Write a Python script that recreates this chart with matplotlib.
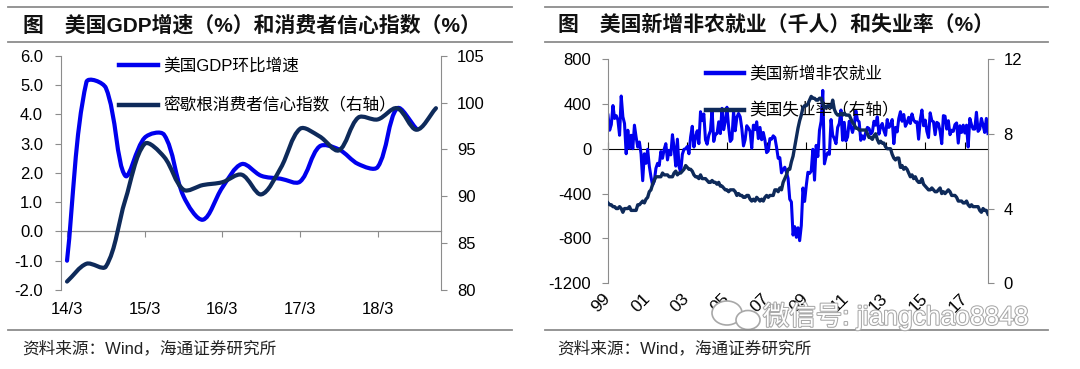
import numpy as np
import matplotlib
matplotlib.use("Agg")
import matplotlib.pyplot as plt
from matplotlib.path import Path
from matplotlib.patches import PathPatch, Ellipse
from matplotlib.lines import Line2D
from matplotlib.ticker import FormatStrFormatter
import matplotlib.patheffects as pe

plt.rcParams['font.family'] = ['Liberation Sans', 'Noto Sans CJK SC']
plt.rcParams['axes.unicode_minus'] = False

# ---- left chart: quarterly, 2014Q1 .. 2018Q4
quarters = ['14/3', '14/6', '14/9', '14/12', '15/3', '15/6', '15/9', '15/12',
            '16/3', '16/6', '16/9', '16/12', '17/3', '17/6', '17/9', '17/12',
            '18/3', '18/6', '18/9', '18/12']
gdp_qoq = [-1.0, 5.1, 4.9, 1.9, 3.2, 3.3, 1.2, 0.4, 1.5, 2.3, 1.9, 1.8,
           1.7, 2.9, 2.8, 2.3, 2.2, 4.2, 3.5]
michigan = [80.9, 82.8, 82.5, 89.6, 95.6, 94.2, 90.7, 91.2, 91.5, 92.3,
            90.2, 93.0, 97.2, 96.4, 94.9, 98.4, 98.2, 99.4, 97.1, 99.4]

# ---- right chart: monthly, 1999-07 .. 2018-09
year_labels = ['99', '01', '03', '05', '07', '09', '11', '13', '15', '17']
nfp = [300, 165, 215, 385, 270, 295,
       255, 120, 470, 285, 225, -45, 165, 5, 120, 0, 210, 105,
       15, 60, -45, -285, -45, -130, -5, -155, -250, -325, -290, -175,
       -130, -150, -25, -85, -5, 45, -100, -15, -55, 125, 10, -155,
       85, -160, -210, -50, -5, 0, 20, -45, 105, 200, 15, 105,
       160, 45, 330, 250, 310, 80, 40, 120, 160, 345, 65, 130,
       135, 240, 135, 360, 170, 245, 370, 195, 65, 85, 335, 160,
       280, 315, 285, 180, 25, 80, 205, 185, 155, 5, 210, 170,
       240, 90, 190, 80, 145, 75, -35, -20, 90, 85, 115, 100,
       15, -85, -80, -215, -185, -165, -210, -265, -450, -475, -770, -695,
       -790, -705, -820, -685, -350, -470, -330, -210, -220, -200, -5, -280,
       30, -70, 165, 245, 520, -135, -70, -35, -50, 260, 120, 90,
       45, 190, 225, 345, 75, 235, 70, 105, 245, 200, 145, 205,
       340, 255, 240, 75, 115, 85, 145, 190, 180, 130, 150, 245,
       210, 285, 130, 195, 225, 160, 120, 260, 190, 210, 260, 45,
       190, 150, 270, 330, 245, 305, 200, 230, 280, 225, 310, 255,
       235, 240, 85, 260, 345, 205, 255, 155, 100, 320, 250, 240,
       125, 235, 225, 155, 45, 295, 290, 175, 250, 125, 165, 155,
       215, 230, 50, 205, 145, 210, 140, 210, 15, 270, 215, 175,
       175, 325, 155, 175, 270, 210, 145, 270, 135]
unemp = [4.3, 4.2, 4.2, 4.1, 4.1, 4.0,
         4.0, 4.1, 4.0, 3.8, 4.0, 4.0, 4.0, 4.1, 3.9, 3.9, 3.9, 3.9,
         4.2, 4.2, 4.3, 4.4, 4.3, 4.5, 4.6, 4.9, 5.0, 5.3, 5.5, 5.7,
         5.7, 5.7, 5.7, 5.9, 5.8, 5.8, 5.8, 5.7, 5.7, 5.7, 5.9, 6.0,
         5.8, 5.9, 5.9, 6.0, 6.1, 6.3, 6.2, 6.1, 6.1, 6.0, 5.8, 5.7,
         5.7, 5.6, 5.8, 5.6, 5.6, 5.6, 5.5, 5.4, 5.4, 5.5, 5.4, 5.4,
         5.3, 5.4, 5.2, 5.2, 5.1, 5.0, 5.0, 4.9, 5.0, 5.0, 5.0, 4.9,
         4.7, 4.8, 4.7, 4.7, 4.6, 4.6, 4.7, 4.7, 4.5, 4.4, 4.5, 4.4,
         4.6, 4.5, 4.4, 4.5, 4.4, 4.6, 4.7, 4.6, 4.7, 4.7, 4.7, 5.0,
         5.0, 4.9, 5.1, 5.0, 5.4, 5.6, 5.8, 6.1, 6.1, 6.5, 6.8, 7.3,
         7.8, 8.3, 8.7, 9.0, 9.4, 9.5, 9.5, 9.6, 9.8, 10.0, 9.9, 9.9,
         9.8, 9.8, 9.9, 9.9, 9.6, 9.4, 9.4, 9.5, 9.5, 9.4, 9.8, 9.3,
         9.1, 9.0, 9.0, 9.1, 9.0, 9.1, 9.0, 9.0, 9.0, 8.8, 8.6, 8.5,
         8.3, 8.3, 8.2, 8.2, 8.2, 8.2, 8.2, 8.0, 7.8, 7.8, 7.7, 7.9,
         8.0, 7.7, 7.5, 7.6, 7.5, 7.5, 7.3, 7.2, 7.2, 7.2, 6.9, 6.7,
         6.6, 6.7, 6.7, 6.2, 6.3, 6.1, 6.2, 6.1, 5.9, 5.7, 5.8, 5.6,
         5.7, 5.5, 5.4, 5.4, 5.6, 5.3, 5.2, 5.1, 5.0, 5.0, 5.1, 5.0,
         4.9, 4.9, 5.0, 5.1, 4.8, 4.9, 4.8, 4.9, 5.0, 4.9, 4.7, 4.7,
         4.7, 4.6, 4.4, 4.4, 4.4, 4.3, 4.3, 4.4, 4.2, 4.1, 4.2, 4.1,
         4.1, 4.1, 4.1, 3.9, 3.8, 4.0, 3.9, 3.9, 3.7]

BLUE = '#0000EE'
NAVY = '#0E2A5A'
GRAY = '#8C8C8C'
W, H = 1080, 369


def smooth_line(ax, x, y, color, lw):
    # excel-like smoothing: bezier segments, tangent length weighted by
    # neighbouring segment lengths on screen (keeps overshoot small)
    pts = ax.transData.transform(np.column_stack([x, y]).astype(float))
    n = len(pts)
    seg = np.hypot(*np.diff(pts, axis=0).T)
    k = 1 / 3
    verts = [pts[0]]
    codes = [Path.MOVETO]
    for i in range(n - 1):
        p1, p2 = pts[i], pts[i + 1]
        p0 = pts[i - 1] if i > 0 else p1
        p3 = pts[i + 2] if i + 2 < n else p2
        l0 = seg[i - 1] if i > 0 else 0.0
        l1 = seg[i]
        l2 = seg[i + 1] if i + 2 < n else 0.0
        c1 = p1 + (p2 - p0) * k * l1 / (l0 + l1)
        c2 = p2 - (p3 - p1) * k * l1 / (l1 + l2)
        verts += [c1, c2, p2]
        codes += [Path.CURVE4] * 3
    verts = ax.transData.inverted().transform(np.array(verts))
    ax.add_patch(PathPatch(Path(verts, codes), facecolor='none', edgecolor=color,
                           lw=lw, capstyle='round', joinstyle='round'))


def style_axes(ax, axr, lpad, rpad):
    for a in (ax, axr):
        for s in a.spines.values():
            s.set_visible(False)
    ax.spines['left'].set_visible(True)
    ax.spines['left'].set_color(GRAY)
    axr.spines['right'].set_visible(True)
    axr.spines['right'].set_color(GRAY)
    ax.tick_params(axis='y', direction='out', length=4, width=0.8, color=GRAY,
                   labelsize=12, pad=lpad)
    axr.tick_params(axis='y', direction='out', length=4, width=0.8, color=GRAY,
                    labelsize=12, pad=rpad)


fig = plt.figure(figsize=(10.8, 3.69), dpi=100)

# ================= left chart
ax1 = fig.add_axes([61 / W, 1 - 290 / H, 380 / W, 234.3 / H])
ax1r = ax1.twinx()
ax1.set_xlim(-0.31, 19.26)
ax1.set_ylim(-2, 6)
ax1r.set_ylim(80, 105)
style_axes(ax1, ax1r, 9, 7.5)
ax1.set_yticks(np.arange(-2, 7, 1))
ax1.yaxis.set_major_formatter(FormatStrFormatter('%.1f'))
ax1r.set_yticks(np.arange(80, 106, 5))

q_idx = np.arange(len(quarters))
ax1.set_xticks(q_idx[::4])
ax1.set_xticklabels(quarters[::4])
ax1.tick_params(axis='x', length=0, pad=9, labelsize=12)

# zero line with its tick marks (below 0.5 -> matplotlib uses 'bottom')
zero1 = ax1.secondary_xaxis((0 - (-2)) / 8)
zero1.set_xticks(q_idx[::4])
zero1.set_xticklabels([])
zero1.tick_params(direction='out', length=4, width=0.8, color=GRAY,
                  labelbottom=False, labeltop=False)
zero1.spines['bottom'].set_color(GRAY)
zero1.spines['bottom'].set_linewidth(0.9)

smooth_line(ax1, np.arange(len(gdp_qoq)), gdp_qoq, BLUE, 3.0)
smooth_line(ax1r, np.arange(len(michigan)), michigan, NAVY, 3.0)

ax1.legend(handles=[Line2D([], [], color=BLUE, lw=3.2), Line2D([], [], color=NAVY, lw=3.2)],
           labels=['美国GDP环比增速', '密歇根消费者信心指数（右轴）'],
           loc='upper left', bbox_to_anchor=(0.153, 0.99), frameon=False,
           fontsize=12, handlelength=2.35, handletextpad=0.3, labelspacing=1.4,
           borderpad=0, borderaxespad=0)

# ================= right chart
ax2 = fig.add_axes([608 / W, 1 - 283.3 / H, 380 / W, 224.3 / H])
ax2r = ax2.twinx()
m_idx = np.arange(len(nfp))
ax2.set_xlim(0, len(nfp) - 1)
ax2.set_ylim(-1200, 800)
ax2r.set_ylim(0, 12)
style_axes(ax2, ax2r, 8, 7)
ax2.set_yticks(np.arange(-1200, 801, 400))
ax2r.set_yticks(np.arange(0, 13, 4))
ax2.set_xticks(m_idx[::24])
ax2.set_xticklabels(year_labels, rotation=45, ha='right', va='center',
                    rotation_mode='anchor')
ax2.tick_params(axis='x', length=0, pad=9, labelsize=12.5)

# zero line: above 0.5 the secondary axis is 'top' aligned, so 'out' points up
zero2 = ax2.secondary_xaxis(1200 / 2000)
zero2.set_xticks(m_idx[::24])
zero2.set_xticklabels([])
zero2.tick_params(direction='out', length=5, width=0.8, color='black',
                  labelbottom=False, labeltop=False)
zero2.spines['top'].set_color('black')
zero2.spines['top'].set_linewidth(0.8)

ax2.plot(m_idx, nfp, color=BLUE, lw=2.2)
ax2r.plot(np.arange(len(unemp)), unemp, color=NAVY, lw=2.4)

ax2.legend(handles=[Line2D([], [], color=BLUE, lw=3.2), Line2D([], [], color=NAVY, lw=3.2)],
           labels=['美国新增非农就业', '美国失业率（右轴）'],
           loc='upper left', bbox_to_anchor=(0.257, 0.97), frameon=False,
           fontsize=12, handlelength=2.3, handletextpad=0.3, labelspacing=1.25,
           borderpad=0, borderaxespad=0)

# ================= frame: rules, titles, sources
for x0, x1 in ((8, 512), (545, 1048)):
    for yy in (7, 42, 330):
        fig.add_artist(Line2D([x0 / W, x1 / W], [1 - yy / H] * 2,
                              transform=fig.transFigure, color=GRAY, lw=1.3))

fig.text(23 / W, 1 - 25 / H, '图　美国GDP增速（%）和消费者信心指数（%）',
         fontsize=15, fontweight='bold', va='center', color='#111111')
fig.text(558 / W, 1 - 25 / H, '图　美国新增非农就业（千人）和失业率（%）',
         fontsize=15, fontweight='bold', va='center', color='#111111')
fig.text(22 / W, 1 - 348 / H, '资料来源：Wind，海通证券研究所',
         fontsize=12, va='center', color='#222222')
fig.text(557 / W, 1 - 348 / H, '资料来源：Wind，海通证券研究所',
         fontsize=12, va='center', color='#222222')

# watermark
fig.add_artist(Ellipse((727 / W, 1 - 313 / H), 30 / W, 24 / H, transform=fig.transFigure,
                       facecolor='white', edgecolor='#a8a8a8', lw=1.2))
fig.add_artist(Ellipse((748 / W, 1 - 320 / H), 24 / W, 19 / H, transform=fig.transFigure,
                       facecolor='white', edgecolor='#a8a8a8', lw=1.2))
fig.text(763 / W, 1 - 316 / H, '微信号: jiangchao8848', fontsize=19, va='center',
         color='white', path_effects=[pe.withStroke(linewidth=1.5, foreground='#a8a8a8')])

fig.savefig('out.png', dpi=100)
